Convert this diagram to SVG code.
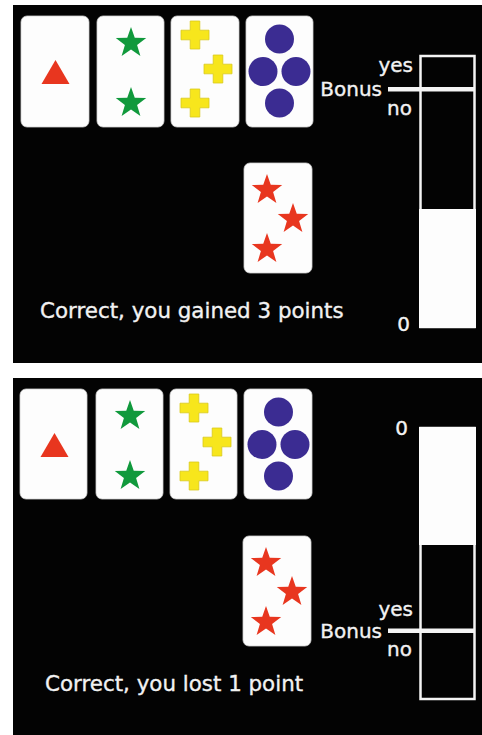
<svg xmlns="http://www.w3.org/2000/svg" xmlns:xlink="http://www.w3.org/1999/xlink" width="482" height="735" viewBox="0 0 482 735">
<style>
.bg{fill:#030303}
.card{fill:#fdfdfd;stroke:#d0d0d0;stroke-width:0.8}
.lbl{font-family:"DejaVu Sans",Verdana,sans-serif;fill:#f2f2f2;stroke:#f2f2f2;stroke-width:0.35;font-size:20px}
.msg{font-family:"DejaVu Sans",Verdana,sans-serif;fill:#f2f2f2;stroke:#f2f2f2;stroke-width:0.35;font-size:21.4px}
.tri{fill:#e8361f}
.gs{fill:#10993c}
.rs{fill:#e8361f}
.yc{fill:#f7e61c;stroke:#d9c91a;stroke-width:0.8}
.bc{fill:#3b2c92}
.barbox{fill:#030303;stroke:#f4f4f4;stroke-width:2.5}
.barfill{fill:#fdfdfd}
.bline{fill:#f4f4f4}
</style>
<defs>
<path id="star" d="M0,-16 L3.76,-5.18 15.22,-4.94 6.09,1.98 9.40,12.94 0,6.4 -9.40,12.94 -6.09,1.98 -15.22,-4.94 -3.76,-5.18Z"/>
<path id="cross" d="M-4.8,-14 H4.8 V-4.8 H14 V4.8 H4.8 V14 H-4.8 V4.8 H-14 V-4.8 H-4.8 Z"/>
</defs>
<rect width="482" height="735" fill="#ffffff"/>

<g id="panel-top">
<rect class="bg" x="13" y="5" width="469" height="358"/>
<g id="top-card1"><rect class="card" x="21" y="16" width="68" height="111" rx="6"/><polygon class="tri" points="55.5,60 69.5,84 41.5,84"/></g>
<g id="top-card2"><rect class="card" x="97" y="16" width="67" height="111" rx="6"/><use xlink:href="#star" class="gs" x="131" y="43"/><use xlink:href="#star" class="gs" x="131" y="103"/></g>
<g id="top-card3"><rect class="card" x="171" y="16" width="68" height="111" rx="6"/><use xlink:href="#cross" class="yc" x="195" y="35"/><use xlink:href="#cross" class="yc" x="218" y="69"/><use xlink:href="#cross" class="yc" x="195" y="103"/></g>
<g id="top-card4"><rect class="card" x="246" y="16" width="67" height="111" rx="6"/><circle class="bc" cx="279.5" cy="39" r="14.5"/><circle class="bc" cx="263" cy="71.5" r="14.5"/><circle class="bc" cx="296" cy="71.5" r="14.5"/><circle class="bc" cx="279.5" cy="103" r="14.5"/></g>
<g id="top-stimulus"><rect class="card" x="244" y="163" width="68" height="110" rx="6"/><use xlink:href="#star" class="rs" x="267" y="190"/><use xlink:href="#star" class="rs" x="293" y="219"/><use xlink:href="#star" class="rs" x="267" y="249"/></g>
<g id="top-bar">
<rect class="barbox" x="420.5" y="56" width="54" height="271"/>
<rect class="barfill" x="419" y="209" width="57" height="119"/>
<rect class="bline" x="388" y="87" width="87" height="4.5"/>
<text class="lbl" x="413" y="72" text-anchor="end">yes</text>
<text class="lbl" x="382" y="96" text-anchor="end">Bonus</text>
<text class="lbl" x="412" y="115" text-anchor="end">no</text>
<text class="lbl" x="410" y="331" text-anchor="end">0</text>
</g>
<text class="msg" x="40" y="318">Correct, you gained 3 points</text>
</g>

<g id="panel-bottom">
<rect class="bg" x="13" y="378" width="469" height="357"/>
<g id="bot-card1"><rect class="card" x="20" y="389" width="67" height="110" rx="6"/><polygon class="tri" points="54.5,433 68.5,457 40.5,457"/></g>
<g id="bot-card2"><rect class="card" x="96" y="389" width="67" height="110" rx="6"/><use xlink:href="#star" class="gs" x="130" y="416"/><use xlink:href="#star" class="gs" x="130" y="476"/></g>
<g id="bot-card3"><rect class="card" x="170" y="389" width="67" height="110" rx="6"/><use xlink:href="#cross" class="yc" x="194" y="408"/><use xlink:href="#cross" class="yc" x="217" y="442"/><use xlink:href="#cross" class="yc" x="194" y="476"/></g>
<g id="bot-card4"><rect class="card" x="244" y="389" width="68" height="110" rx="6"/><circle class="bc" cx="278.5" cy="412" r="14.5"/><circle class="bc" cx="262" cy="444.5" r="14.5"/><circle class="bc" cx="295" cy="444.5" r="14.5"/><circle class="bc" cx="278.5" cy="476" r="14.5"/></g>
<g id="bot-stimulus"><rect class="card" x="243" y="536" width="68" height="110" rx="6"/><use xlink:href="#star" class="rs" x="266" y="563"/><use xlink:href="#star" class="rs" x="292" y="592"/><use xlink:href="#star" class="rs" x="266" y="622"/></g>
<g id="bot-bar">
<rect class="barbox" x="420.5" y="428" width="54" height="271"/>
<rect class="barfill" x="419" y="427" width="57" height="118"/>
<rect class="bline" x="388" y="628.5" width="87" height="4.5"/>
<text class="lbl" x="413" y="616" text-anchor="end">yes</text>
<text class="lbl" x="382" y="638" text-anchor="end">Bonus</text>
<text class="lbl" x="412" y="656" text-anchor="end">no</text>
<text class="lbl" x="408" y="435" text-anchor="end">0</text>
</g>
<text class="msg" x="45" y="691">Correct, you lost 1 point</text>
</g>
</svg>
